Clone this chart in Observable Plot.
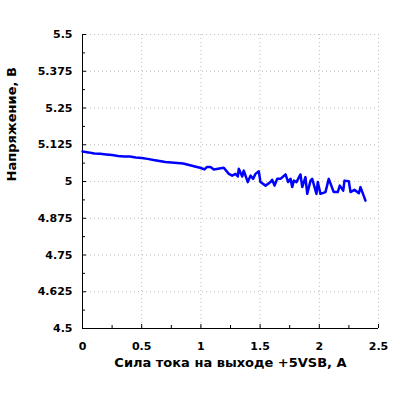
<!DOCTYPE html>
<html>
<head>
<meta charset="utf-8">
<script src="https://cdn.jsdelivr.net/npm/d3@7"></script>
<script src="https://cdn.jsdelivr.net/npm/@observablehq/plot@0.6"></script>
<style>
  html, body { margin: 0; padding: 0; background: #fff; }
</style>
</head>
<body>
<div id="chart"></div>
<script>
const current = [0, 0.05, 0.1, 0.15, 0.2, 0.25, 0.3, 0.35, 0.4, 0.45, 0.5, 0.55, 0.6, 0.65, 0.7, 0.75, 0.8, 0.85, 0.9, 0.95, 1.0, 1.03, 1.05, 1.081, 1.109, 1.193, 1.236, 1.264, 1.292, 1.312, 1.320, 1.349, 1.362, 1.396, 1.419, 1.442, 1.461, 1.489, 1.503, 1.546, 1.588, 1.602, 1.622, 1.644, 1.672, 1.715, 1.737, 1.757, 1.771, 1.785, 1.807, 1.841, 1.856, 1.883, 1.898, 1.926, 1.940, 1.976, 1.987, 2.010, 2.052, 2.080, 2.122, 2.156, 2.173, 2.202, 2.213, 2.249, 2.264, 2.297, 2.334, 2.348, 2.390];
const voltage = [5.102, 5.099, 5.095, 5.094, 5.092, 5.090, 5.087, 5.085, 5.085, 5.082, 5.080, 5.077, 5.073, 5.070, 5.066, 5.065, 5.063, 5.061, 5.056, 5.051, 5.046, 5.041, 5.049, 5.049, 5.041, 5.047, 5.026, 5.020, 5.026, 5.017, 5.043, 5.017, 5.037, 4.998, 5.020, 5.009, 5.026, 5.035, 4.998, 4.986, 4.998, 5.006, 4.986, 5.009, 5.009, 5.024, 4.998, 5.009, 4.981, 5.003, 4.998, 5.024, 4.981, 5.015, 4.958, 5.003, 5.009, 4.958, 4.998, 4.958, 4.964, 5.009, 4.964, 4.964, 4.986, 4.969, 5.003, 5.001, 4.964, 4.972, 4.960, 4.981, 4.935];

const xTicks = [0, 0.5, 1, 1.5, 2, 2.5];
const xMinor = [0.25, 0.75, 1.25, 1.75, 2.25];
const yTicks = [4.5, 4.625, 4.75, 4.875, 5, 5.125, 5.25, 5.375, 5.5];
const yMinor = [4.5625, 4.6875, 4.8125, 4.9375, 5.0625, 5.1875, 5.3125, 5.4375];

const xLabel = "Сила тока на выходе +5VSB, A";
const yLabel = "Напряжение, В";

const data = current.map((c, i) => ({x: c, y: voltage[i]}));

const font = "DejaVu Sans, Verdana, sans-serif";

const chart = Plot.plot({
  width: 400,
  height: 400,
  marginLeft: 82,
  marginRight: 22,
  marginTop: 34,
  marginBottom: 72,
  style: {fontFamily: font, fontWeight: "bold", fontSize: "11px", color: "#000", background: "#fff"},
  x: {domain: [0, 2.5]},
  y: {domain: [4.5, 5.5]},
  marks: [
    Plot.ruleX(xTicks.filter(d => d > 0), {stroke: "#bbb", strokeDasharray: "1,3", strokeWidth: 1}),
    Plot.ruleY(yTicks.filter(d => d > 4.5), {stroke: "#bbb", strokeDasharray: "1,3", strokeWidth: 1}),
    // tick labels
    Plot.axisX({ticks: xTicks, tickSize: 0, tickPadding: 14, tickFormat: d => String(d), label: null, fontWeight: "bold", fontSize: 11}),
    Plot.axisY({ticks: yTicks, tickSize: 0, tickPadding: 10, tickFormat: d => String(d), label: null, fontWeight: "bold", fontSize: 11}),
    // inward tick marks
    Plot.axisX({ticks: xTicks, tickSize: 4, dy: -4, tickFormat: () => "", label: null}),
    Plot.axisX({ticks: xMinor, tickSize: 3, dy: -3, tickFormat: () => "", label: null}),
    Plot.axisY({ticks: yTicks, tickSize: 4, dx: 4, tickFormat: () => "", label: null}),
    Plot.axisY({ticks: yMinor, tickSize: 3, dx: 3, tickFormat: () => "", label: null}),
    Plot.ruleX([0], {stroke: "#000", strokeWidth: 1}),
    Plot.ruleY([4.5], {stroke: "#000", strokeWidth: 1}),
    Plot.line(data, {x: "x", y: "y", stroke: "#0000ff", strokeWidth: 2.5, strokeLinejoin: "round"}),
    Plot.text([xLabel], {frameAnchor: "bottom", dy: 38, fontSize: 13, fontWeight: "bold", fill: "#000"}),
    Plot.text([yLabel], {frameAnchor: "left", dx: -71, rotate: -90, fontSize: 13, fontWeight: "bold", fill: "#000"})
  ]
});

document.getElementById("chart").appendChild(chart);
</script>
</body>
</html>
